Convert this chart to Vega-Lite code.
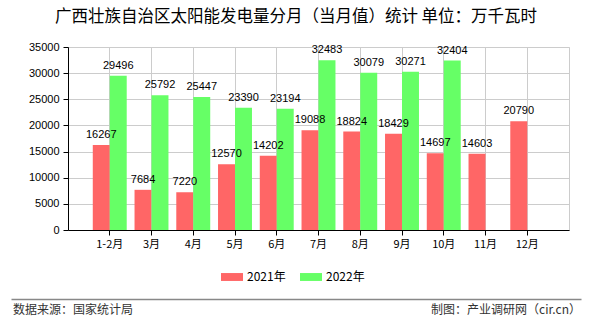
{
  "$schema": "https://vega.github.io/schema/vega-lite/v6.json",
  "background": "white",
  "padding": {"left": 10, "right": 10, "top": 8, "bottom": 2},
  "config": {"view": {"stroke": null}, "font": "Noto Sans CJK SC"},
  "columns": 1,
  "align": "none",
  "spacing": 15,
  "resolve": {"scale": {"color": "independent"}, "legend": {"color": "independent"}},
  "concat": [
    {
      "width": 501,
      "height": 183,
      "title": {"text": "广西壮族自治区太阳能发电量分月（当月值）统计  单位：万千瓦时", "fontSize": 16.5, "font": "Noto Sans CJK SC", "fontWeight": "normal", "anchor": "middle", "frame": "bounds", "dx": 6, "offset": 16, "color": "#000"},
      "view": {"stroke": "#cccccc"},
      "data": {"values": [
        {"month": "1-2月", "year": "2021年", "value": 16267},
        {"month": "3月", "year": "2021年", "value": 7684},
        {"month": "4月", "year": "2021年", "value": 7220},
        {"month": "5月", "year": "2021年", "value": 12570},
        {"month": "6月", "year": "2021年", "value": 14202},
        {"month": "7月", "year": "2021年", "value": 19088},
        {"month": "8月", "year": "2021年", "value": 18824},
        {"month": "9月", "year": "2021年", "value": 18429},
        {"month": "10月", "year": "2021年", "value": 14697},
        {"month": "11月", "year": "2021年", "value": 14603},
        {"month": "12月", "year": "2021年", "value": 20790},
        {"month": "1-2月", "year": "2022年", "value": 29496},
        {"month": "3月", "year": "2022年", "value": 25792},
        {"month": "4月", "year": "2022年", "value": 25447},
        {"month": "5月", "year": "2022年", "value": 23390},
        {"month": "6月", "year": "2022年", "value": 23194},
        {"month": "7月", "year": "2022年", "value": 32483},
        {"month": "8月", "year": "2022年", "value": 30079},
        {"month": "9月", "year": "2022年", "value": 30271},
        {"month": "10月", "year": "2022年", "value": 32404}
      ]},
      "encoding": {
        "x": {"field": "month", "type": "nominal",
          "sort": ["1-2月", "3月", "4月", "5月", "6月", "7月", "8月", "9月", "10月", "11月", "12月"],
          "scale": {"paddingInner": 0, "paddingOuter": 0.5},
          "axis": {"title": null, "labelAngle": 0, "grid": true, "gridColor": "#cccccc", "bandPosition": 0.5, "domainColor": "#000", "tickColor": "#000", "tickSize": 5, "labelColor": "#000", "labelFontSize": 11, "labelPadding": 3}},
        "xOffset": {"field": "year", "type": "nominal", "scale": {"domain": ["2021年", "2022年"], "paddingInner": 0, "paddingOuter": 0.23}},
        "y": {"field": "value", "type": "quantitative",
          "scale": {"domain": [0, 35000]},
          "axis": {"title": null, "format": "d", "values": [0, 5000, 10000, 15000, 20000, 25000, 30000, 35000], "grid": true, "gridColor": "#cccccc", "domainColor": "#000", "tickColor": "#000", "tickSize": 5, "labelColor": "#000", "labelFont": "Liberation Sans", "labelFontSize": 11, "labelPadding": 4, "minExtent": 57}}
      },
      "layer": [
        {
          "mark": {"type": "bar"},
          "encoding": {
            "color": {"field": "year", "type": "nominal",
              "scale": {"domain": ["2021年", "2022年"], "range": ["#FF6666", "#66FF66"]},
              "legend": {"title": null, "orient": "none", "legendX": 153, "legendY": 219, "direction": "horizontal", "symbolType": "M-1,-0.36H1V0.36H-1Z", "symbolSize": 484, "symbolStrokeWidth": 0, "symbolOpacity": 1, "labelFontSize": 12, "labelColor": "#000", "labelFont": "Noto Sans CJK SC", "columnPadding": 14}}
          }
        },
        {
          "mark": {"type": "text", "baseline": "bottom", "dy": -5, "fontSize": 11, "font": "Liberation Sans", "color": "#000"},
          "encoding": {"text": {"field": "value", "type": "quantitative", "format": "d"}}
        }
      ]
    },
    {
      "width": 513,
      "height": 20,
      "data": {"values": [
        {"side": "left", "note": "数据来源：国家统计局"},
        {"side": "right", "note": "制图：产业调研网（cir.cn）"}
      ]},
      "encoding": {
        "x": {"field": "side", "type": "nominal",
          "scale": {"type": "point", "domain": ["left", "right"], "padding": 0, "range": [-57, 513]},
          "axis": {"orient": "top", "domain": true, "labels": false, "ticks": false, "title": null, "grid": false, "domainColor": "#888888", "domainWidth": 1.5}}
      },
      "layer": [
        {
          "transform": [{"filter": "datum.side === 'left'"}],
          "mark": {"type": "text", "align": "left", "dx": 2, "dy": 1, "fontSize": 12, "color": "#333", "font": "Noto Sans CJK SC"},
          "encoding": {"text": {"field": "note"}}
        },
        {
          "transform": [{"filter": "datum.side === 'right'"}],
          "mark": {"type": "text", "align": "right", "dy": 1, "fontSize": 12, "color": "#333", "font": "Noto Sans CJK SC"},
          "encoding": {"text": {"field": "note"}}
        }
      ]
    }
  ]
}
